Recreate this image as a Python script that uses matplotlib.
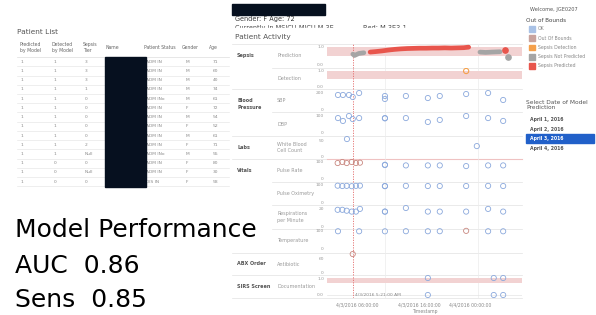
import matplotlib.pyplot as plt
from matplotlib.patches import Rectangle

plt.rcParams['font.family'] = ['DejaVu Sans']

W, H = 596, 315                                   # canvas size in pixels

# ---------------- patient list ----------------
list_header = ['Predicted\nby Model', 'Detected\nby Model', 'Sepsis\nTier', 'Name',
               'Patient Status', 'Gender', 'Age']
predicted_by_model = ['1'] * 14
detected_by_model = ['1'] * 11 + ['0'] * 3
sepsis_tier = ['3', '3', '3', '1', '0', '0', '0', '0', '0', '2', 'Null', '0', 'Null', '0']
patient_status = ['ADM IN', 'ADM IN', 'ADM IN', 'ADM IN', 'ADM INo', 'ADM IN', 'ADM IN',
                  'ADM IN', 'ADM IN', 'ADM IN', 'ADM INo', 'ADM IN', 'ADM IN', 'DIS IN']
gender = ['M', 'M', 'M', 'M', 'M', 'F', 'M', 'F', 'M', 'F', 'M', 'F', 'F', 'F']
age = [71, 60, 40, 74, 61, 72, 54, 52, 61, 71, 55, 80, 30, 58]

perf_names = ['AUC', 'Sens']
perf_values = [0.86, 0.85]

# ---------------- patient activity, hours after 4/3/2016 00:00 ----------------
alert_hour = 5.35                                  # 4/3/2016 5:21 AM
alert_label = '4/3/2016 5:21:00 AM'
tick_hours = [6, 16, 24]
tick_labels = ['4/3/2016 06:00:00', '4/3/2016 16:00:00', '4/4/2016 00:00:00']
grid_hours = [10.5, 25.3]

# model prediction (1 = sepsis predicted, 0 = not predicted)
pred_hours = [5.35, 5.6, 6.3, 7.1, 8.1, 9.0, 10.0, 11.0, 12.0, 13.0, 14.0, 15.0, 16.0,
              17.0, 18.0, 19.0, 20.0, 21.0, 22.0, 23.0, 23.8, 25.6, 26.5, 27.5, 28.8,
              29.6, 30.0]
pred_prob = [0.58, 0.5, 0.62, 0.66, 0.7, 0.73, 0.77, 0.82, 0.86, 0.89, 0.91, 0.92, 0.93,
             0.93, 0.94, 0.94, 0.95, 0.94, 0.95, 0.96, 0.99, 0.7, 0.68, 0.7, 0.72,
             0.82, 0.42]
pred_flag = [0, 0, 0, 0, 1, 1, 1, 1, 1, 1, 1, 1, 1, 1, 1, 1, 1, 1, 1, 1, 1, 0, 0, 0, 0, 1, 0]
detect_hours = [23.4]
detect_vals = [1.0]

early = [2.93, 3.67, 4.37, 5.17, 5.84, 6.48]
later = [10.46, 10.46, 13.8, 17.3, 19.2, 23.4, 26.9, 29.3]
bp_hours = [2.98, 3.77, 4.73, 5.33, 6.35] + later
sbp_vals = [165, 165, 165, 141, 188, 153, 118, 153, 129, 153, 176, 188, 106]
dbp_vals = [82, 65, 94, 76, 82, 82, 80, 82, 59, 71, 94, 82, 65]
wbc_hours = [4.41, 25.1]
wbc_vals = [53, 31]
vit_hours = early + later
pulse_vals = [94, 100, 94, 100, 94, 96, 84, 82, 80, 80, 80, 76, 80, 80]
pulse_oob = [1, 1, 1, 1, 1, 1, 0, 0, 0, 0, 0, 0, 0, 0]
spo2_vals = [96, 94, 95, 93, 95, 96, 94, 93, 95, 94, 94, 94, 95, 94]
resp_vals = [18, 18, 17, 16, 16, 19, 16, 16, 20, 16, 16, 16, 19, 16]
temp_hours = [2.98, 6.35, 10.46, 13.8, 17.3, 19.2, 23.4, 26.9, 29.3]
temp_vals = [98.6, 98.4, 98.2, 98.8, 98.6, 98.7, 100.9, 98.5, 98.3]
temp_oob = [0, 0, 0, 0, 0, 0, 1, 0, 0]
abx_hours = [5.33]
abx_vals = [77]
sirs_hours = [17.3, 27.8, 29.3, 17.3, 27.8, 29.3]
sirs_vals = [1.0, 1.0, 1.0, 0.0, 0.0, 0.0]

row_groups = ['Sepsis', '', 'Blood\nPressure', '', 'Labs', 'Vitals', '', '', '',
              'ABX Order', 'SIRS Screen']
row_names = ['Prediction', 'Detection', 'SBP', 'DBP', 'White Blood\nCell Count',
             'Pulse Rate', 'Pulse Oximetry', 'Respirations\nper Minute', 'Temperature',
             'Antibiotic', 'Documentation']
row_max = [1.0, 1.0, 200, 100, 50, 100, 100, 20, 100, 60, 1.0]

legend_labels = ['OK', 'Out Of Bounds', 'Sepsis Detection', 'Sepsis Not Predicted',
                 'Sepsis Predicted']
legend_colors = ['#a9c2e6', '#c9a39d', '#f5a04b', '#a5a5a5', '#e8554c']
dates = ['April 1, 2016', 'April 2, 2016', 'April 3, 2016', 'April 4, 2016']
selected_date = 2

ok_col, oob_col = '#8aa8dc', '#c98880'
band_col = '#f2d2d2'

# ---------------- layout (pixels) ----------------
row_top = [44, 67.5, 89, 112, 136, 159, 182, 205, 228.5, 253, 275]
row_bot = row_top[1:] + [298]
tick_hi = [47, 71, 92, 115, 140, 162, 185, 208, 231, 258, 278]
tick_lo = [64, 86, 109, 132, 156, 179, 202, 226, 248, 272, 295]
plot_x0, plot_x1 = 327, 522
hour_lim = (1.23, 32.3)

fig = plt.figure(figsize=(W / 100, H / 100), dpi=100)
bg = fig.add_axes([0, 0, 1, 1])
bg.set_xlim(0, W)
bg.set_ylim(H, 0)
bg.axis('off')


def px_axes(x0, y0, x1, y1):
    return fig.add_axes([x0 / W, 1 - y1 / H, (x1 - x0) / W, (y1 - y0) / H])


# ---- patient list table ----
bg.text(17, 32, 'Patient List', fontsize=5.3, color='#555555', va='center')
for x, name in zip([20, 52, 83, 106, 144, 182, 209], list_header):
    bg.text(x, 47.5, name, fontsize=3.3, color='#666666', va='center', linespacing=1.4)
bg.plot([17, 229], [57, 57], color='#dddddd', lw=0.5)
for i in range(len(age)):
    y = 61.7 + 9.23 * i
    cells = [predicted_by_model[i], detected_by_model[i], sepsis_tier[i],
             patient_status[i], gender[i], str(age[i])]
    for x, c in zip([21, 54, 85, 146, 186, 213], cells):
        bg.text(x, y, c, fontsize=3.2, color='#8a8a8a', va='center')
    bg.plot([17, 229], [y + 4.6, y + 4.6], color='#e8e8e8', lw=0.5)
bg.add_patch(Rectangle((105, 57), 41, 130, color='#06101f', zorder=3))

# ---- patient header ----
bg.add_patch(Rectangle((232, 4), 93, 11, color='#06101f'))
bg.text(235, 19.5, 'Gender: F Age: 72', fontsize=4.7, color='#333333', va='center')
bg.text(235, 30, 'Currently in MSICU-MICU M 3E', fontsize=4.7, color='#444444')
bg.text(363, 30, 'Bed: M 3E3-1', fontsize=4.7, color='#444444')
bg.add_patch(Rectangle((230, 27.8), 200, 5, color='white', zorder=5))
bg.text(235, 37.5, 'Patient Activity', fontsize=5.3, color='#555555', va='center', zorder=6)

# ---- row separators and row labels ----
for i in range(len(row_names)):
    x_start = 232 if row_groups[i] else 272
    bg.plot([x_start, plot_x1], [row_top[i], row_top[i]], color='#e2e2e2', lw=0.5)
    mid = (row_top[i] + row_bot[i]) / 2
    if row_groups[i]:
        bg.text(237, mid - 2.6, row_groups[i], fontsize=3.5, color='#555555',
                fontweight='bold', va='top', linespacing=1.5)
    bg.text(277, mid, row_names[i], fontsize=3.5, color='#9a9a9a', va='center',
            linespacing=1.5)
bg.plot([232, plot_x1], [298, 298], color='#e2e2e2', lw=0.5)
bg.plot([plot_x0, plot_x1], [158.5, 158.5], color='#efc2c2', lw=0.8)

# ---- small multiples ----
axes = []
for i, vmax in enumerate(row_max):
    k = vmax / (tick_lo[i] - tick_hi[i])
    ax = px_axes(plot_x0, row_top[i], plot_x1, row_bot[i])
    ax.set_xlim(hour_lim)
    ax.set_ylim(-(row_bot[i] - tick_lo[i]) * k, vmax + (tick_hi[i] - row_top[i]) * k)
    ax.patch.set_alpha(0)
    for s in ax.spines.values():
        s.set_visible(False)
    fmt = '{:.1f}' if vmax == 1 else '{:.0f}'
    ax.set_yticks([0, vmax])
    ax.set_yticklabels([fmt.format(0), fmt.format(vmax)])
    ax.tick_params(axis='y', length=0, pad=2.2, labelsize=3.2, labelcolor='#999999')
    ax.set_xticks([])
    for g in grid_hours:
        ax.axvline(g, color='#ececec', lw=0.5, zorder=0)
    ax.axvline(alert_hour, color='#e36a6a', lw=0.6, ls=(0, (1.5, 1.5)), zorder=1)
    axes.append(ax)


def circles(ax, hours, vals, oob=None):
    if oob is None:
        oob = [0] * len(hours)
    cols = [oob_col if o else ok_col for o in oob]
    ax.scatter(hours, vals, s=14, facecolors='none', edgecolors=cols, linewidths=0.6,
               zorder=3, clip_on=False)


# sepsis prediction
ax = axes[0]
ax.axhspan(0.5, 1.0, color=band_col, lw=0, zorder=0)
pred_colors = {1: '#e8554c', 0: '#a5a5a5'}
start = 0
for i in range(1, len(pred_hours) + 1):
    if i == len(pred_hours) or pred_flag[i] != pred_flag[start]:
        c = pred_colors[pred_flag[start]]
        if i - start > 1:
            ax.plot(pred_hours[start:i], pred_prob[start:i], color=c, lw=3.4,
                    solid_capstyle='round', zorder=2)
        else:
            ax.plot(pred_hours[start:i], pred_prob[start:i], 'o', color=c, ms=3.8,
                    zorder=2)
        start = i

# sepsis detection
ax = axes[1]
ax.axhspan(0.5, 1.0, color=band_col, lw=0, zorder=0)
ax.scatter(detect_hours, detect_vals, s=14, facecolors='none', edgecolors='#f5a04b',
           linewidths=0.8, zorder=3)

circles(axes[2], bp_hours, sbp_vals)
circles(axes[3], bp_hours, dbp_vals)
circles(axes[4], wbc_hours, wbc_vals)
circles(axes[5], vit_hours, pulse_vals, pulse_oob)
circles(axes[6], vit_hours, spo2_vals)
circles(axes[7], vit_hours, resp_vals)
circles(axes[8], temp_hours, temp_vals, temp_oob)
circles(axes[9], abx_hours, abx_vals, [1] * len(abx_hours))

# SIRS documentation
ax = axes[10]
ax.axhspan(0.7, 1.0, color=band_col, lw=0, zorder=0)
ax.axhline(0, color='#e4e4e4', lw=0.5, zorder=0)
circles(ax, sirs_hours, sirs_vals)
ax.annotate(alert_label, xy=(alert_hour, 0), xytext=(1.8, 0), textcoords='offset points',
            fontsize=3.2, color='#888888', va='center')
ax.set_xticks(tick_hours)
ax.set_xticklabels(tick_labels)
ax.tick_params(axis='x', length=0, pad=3, labelsize=3.3, labelcolor='#888888')
ax.set_xlabel('Timestamp', fontsize=3.3, color='#888888', labelpad=1.5)

# ---- right panel ----
bg.text(554, 9, 'Welcome, JGE0207', fontsize=3.6, color='#555555', ha='center', va='center')
bg.text(526, 21, 'Out of Bounds', fontsize=4.1, color='#444444', va='center')
for i, (lab, col) in enumerate(zip(legend_labels, legend_colors)):
    y = 29 + 9.25 * i
    bg.add_patch(Rectangle((529, y - 2.9), 5.8, 5.8, color=col))
    bg.text(538, y, lab, fontsize=3.3, color='#888888', va='center')
bg.text(526, 105, 'Select Date of Model\nPrediction', fontsize=4.2, color='#555555',
        va='center', linespacing=1.2)
for i, d in enumerate(dates):
    y = 120 + 9.35 * i
    if i == selected_date:
        bg.add_patch(Rectangle((526, y - 4.6), 68, 9.2, color='#2160c9'))
    bg.text(530, y, d, fontsize=3.3, fontweight='bold',
            color='white' if i == selected_date else '#555555', va='center')

# ---- model performance text ----
def fig_text(x, y, s, **kw):
    fig.text(x / W, 1 - y / H, s, **kw)


fig_text(15, 237, 'Model Performance', fontsize=18, color='black', va='baseline')
for i, (name, val) in enumerate(zip(perf_names, perf_values)):
    fig_text(15, 273 + 34 * i, f'{name}  {val:.2f}', fontsize=18, color='black',
             va='baseline')

fig.savefig('out.png', dpi=100, facecolor='white')
